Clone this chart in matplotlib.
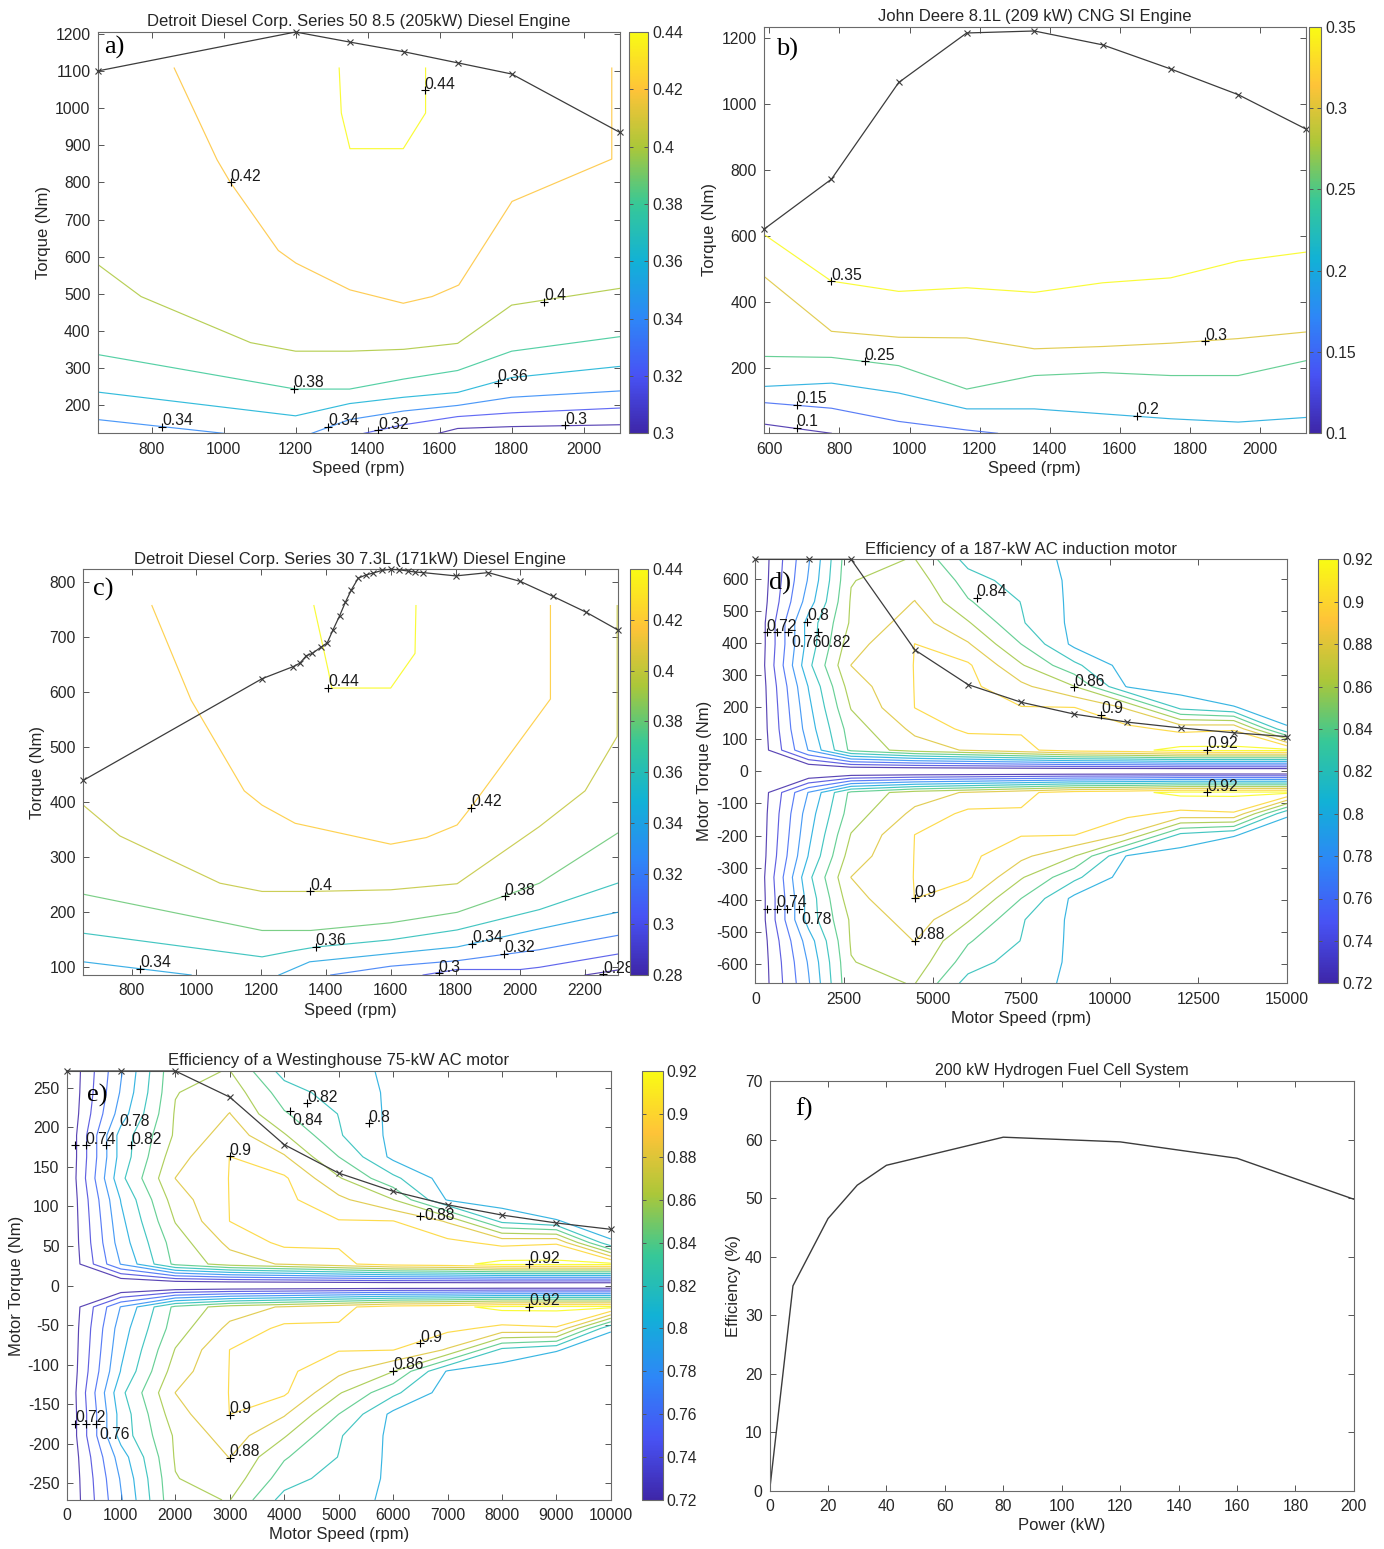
import numpy as np
import matplotlib
matplotlib.use("Agg")
import matplotlib.pyplot as plt
from matplotlib.colors import LinearSegmentedColormap, Normalize
from matplotlib.cm import ScalarMappable
from matplotlib.ticker import FuncFormatter

plt.rcParams['font.family'] = ['Liberation Sans', 'DejaVu Sans']
plt.rcParams['axes.unicode_minus'] = False

# ---------------- data: panel a (Series 50 diesel) ----------------
a_max_spd = [650, 1200, 1350, 1500, 1650, 1800, 2100]
a_max_trq = [1100, 1205, 1178, 1152, 1122, 1092, 935]
a_line_level = [0.44, 0.42, 0.40, 0.38, 0.36, 0.34, 0.34, 0.32, 0.30]
a_line_spd = [
    [1321, 1327, 1351, 1499, 1561, 1561],
    [863, 982, 1019, 1152, 1201, 1351, 1499, 1579, 1653, 1801, 2078, 2078],
    [650, 771, 1075, 1200, 1350, 1500, 1650, 1800, 2100],
    [650, 1200, 1350, 1500, 1650, 1800, 2100],
    [650, 1200, 1350, 1500, 1650, 1800, 2100],
    [650, 1000],
    [1245, 1350, 1500, 1650, 1800, 2100],
    [1390, 1500, 1650, 1800, 2100],
    [1597, 1650, 1800, 2100],
]
a_line_trq = [
    [1108, 987, 891, 891, 987, 1108],
    [1108, 861, 800, 617, 583, 511, 475, 493, 524, 749, 863, 1108],
    [580, 493, 369, 346, 346, 351, 367, 470, 515],
    [337, 244, 244, 271, 294, 346, 385],
    [236, 172, 205, 222, 235, 275, 305],
    [162, 125],
    [125, 162, 185, 200, 222, 239],
    [125, 148, 170, 180, 193],
    [125, 138, 143, 148],
]
a_lab_spd = [1558, 1020, 1890, 1195, 1761, 829, 1290, 1430, 1948]
a_lab_trq = [1048, 800, 479, 244, 261, 142, 143, 133, 146]
a_lab_txt = ['0.44', '0.42', '0.4', '0.38', '0.36', '0.34', '0.34', '0.32', '0.3']

# ---------------- data: panel b (John Deere CNG) ----------------
b_max_spd = [584, 777, 969, 1163, 1356, 1551, 1745, 1938, 2131]
b_max_trq = [621, 773, 1066, 1216, 1222, 1180, 1107, 1029, 925]
b_line_level = [0.35, 0.30, 0.25, 0.20, 0.15, 0.10]
b_line_spd = [
    [584, 777, 969, 1163, 1356, 1551, 1745, 1938, 2131],
    [584, 777, 969, 1163, 1356, 1551, 1745, 1938, 2131],
    [584, 777, 969, 1163, 1356, 1551, 1745, 1938, 2131],
    [584, 777, 969, 1163, 1356, 1551, 1745, 1938, 2131],
    [584, 777, 969, 1163, 1251],
    [584, 777],
]
b_line_trq = [
    [606, 464, 433, 444, 430, 459, 474, 525, 552],
    [479, 312, 294, 292, 259, 266, 276, 290, 310],
    [236, 233, 208, 137, 178, 187, 178, 178, 223],
    [145, 155, 125, 77, 77, 62, 47, 37, 51],
    [96, 79, 39, 13, 3],
    [31, 3],
]
b_lab_spd = [777, 1843, 872, 1650, 678, 678]
b_lab_trq = [464, 282, 221, 56, 89, 20]
b_lab_txt = ['0.35', '0.3', '0.25', '0.2', '0.15', '0.1']

# ---------------- data: panel c (Series 30 diesel) ----------------
c_max_spd = [651, 1203, 1299, 1319, 1340, 1358, 1384, 1404, 1422, 1442, 1460, 1479, 1500,
             1525, 1545, 1573, 1600, 1627, 1652, 1675, 1700, 1801, 1901, 2000, 2100, 2203, 2300]
c_max_trq = [440, 625, 647, 653, 667, 671, 682, 690, 714, 739, 764, 787, 808,
             814, 817, 822, 824, 823, 821, 819, 818, 812, 818, 802, 775, 746, 714]
c_line_level = [0.44, 0.42, 0.40, 0.38, 0.36, 0.34, 0.34, 0.32, 0.30, 0.28]
c_line_spd = [
    [1363, 1408, 1418, 1600, 1675, 1678],
    [863, 984, 1148, 1203, 1305, 1600, 1710, 1805, 1849, 2093, 2093],
    [651, 764, 1073, 1203, 1353, 1600, 1805, 2059, 2200, 2299, 2299],
    [651, 1203, 1353, 1600, 1805, 1952, 2059, 2300],
    [651, 1203, 1300, 1370, 1600, 1805, 2059, 2300],
    [651, 984],
    [1255, 1350, 1600, 1805, 2059, 2300],
    [1415, 1600, 1805, 2059, 2300],
    [1700, 1805, 2000, 2059, 2300],
    [2200, 2300],
]
c_line_trq = [
    [758, 638, 608, 608, 671, 758],
    [758, 586, 421, 395, 362, 324, 336, 359, 392, 588, 758],
    [395, 339, 253, 238, 238, 241, 252, 356, 421, 520, 758],
    [233, 167, 167, 181, 200, 230, 253, 344],
    [162, 119, 130, 137, 150, 168, 205, 253],
    [110, 86],
    [86, 110, 125, 137, 170, 200],
    [86, 102, 112, 132, 158],
    [86, 96, 96, 100, 124],
    [86, 95],
]
c_lab_spd = [1408, 1849, 1351, 1952, 1369, 1851, 827, 1950, 1748, 2256]
c_lab_trq = [608, 390, 238, 229, 137, 143, 97, 124, 89, 87]
c_lab_txt = ['0.44', '0.42', '0.4', '0.38', '0.36', '0.34', '0.34', '0.32', '0.3', '0.28']

# ---------------- data: AC motor efficiency map (panels d and e) ----------------
# rows: torque breakpoints from 0 up to max torque; columns: speed breakpoints
motor_eff = [
    [0.69, 0.69, 0.69, 0.69, 0.69, 0.69, 0.69, 0.69, 0.69, 0.69, 0.69],
    [0.70, 0.781, 0.845, 0.87, 0.882, 0.895, 0.91, 0.915, 0.925, 0.925, 0.925],
    [0.70, 0.79, 0.85, 0.885, 0.905, 0.902, 0.905, 0.905, 0.895, 0.898, 0.802],
    [0.70, 0.795, 0.861, 0.9002, 0.905, 0.901, 0.9005, 0.878, 0.815, 0.801, 0.79],
    [0.70, 0.801, 0.87, 0.9005, 0.905, 0.885, 0.8605, 0.798, 0.79, 0.788, 0.785],
    [0.70, 0.815, 0.8802, 0.9005, 0.903, 0.862, 0.825, 0.79, 0.79, 0.788, 0.785],
    [0.70, 0.808, 0.872, 0.9002, 0.882, 0.84, 0.795, 0.79, 0.79, 0.788, 0.785],
    [0.70, 0.808, 0.863, 0.89, 0.862, 0.822, 0.795, 0.79, 0.79, 0.788, 0.785],
    [0.70, 0.79, 0.862, 0.8805, 0.842, 0.8195, 0.795, 0.793, 0.792, 0.79, 0.788],
    [0.70, 0.782, 0.859, 0.872, 0.83, 0.81, 0.797, 0.795, 0.793, 0.79, 0.788],
    [0.70, 0.778, 0.857, 0.8605, 0.812, 0.806, 0.797, 0.795, 0.793, 0.79, 0.788],
]
motor_levels = [0.72, 0.74, 0.76, 0.78, 0.80, 0.82, 0.84, 0.86, 0.88, 0.90, 0.92]

d_spd = [0, 1500, 2700, 4500, 6000, 7500, 9000, 10500, 12000, 13500, 15000]
d_trq = [0, 66, 132, 198, 264, 330, 396, 462, 528, 594, 660]
d_max_trq = [660, 660, 660, 378, 270, 215, 178, 153, 135, 120, 108]
d_lab_spd = [316, 598, 928, 1465, 1767, 6250, 9000, 9750, 12750, 12750, 4500, 4500, 316, 598, 900, 1230]
d_lab_trq = [433, 433, 433, 466, 433, 540, 262, 175, 66, -66, -396, -528, -428, -428, -428, -428]
d_lab_txt = ['0.72', '', '0.76', '0.8', '0.82', '0.84', '0.86', '0.9', '0.92', '0.92', '0.9', '0.88', '', '0.74', '', '0.78']
d_lab_pos = ['up', '', 'down', 'up', 'down', 'up', 'up', 'up', 'up', 'up', 'up', 'up', '', 'up', '', 'down']

e_spd = [0, 1000, 2000, 3000, 4000, 5000, 6000, 7000, 8000, 9000, 10000]
e_trq = [0, 27.1, 54.2, 81.3, 108.4, 135.5, 162.6, 189.7, 216.8, 243.9, 271]
e_max_trq = [271, 271, 271, 238, 178, 142, 119, 102, 89, 79, 71]
e_lab_spd = [158, 353, 717, 1191, 3000, 4103, 4426, 5550, 6500, 8500, 8500, 6500, 6000, 3000, 3000, 158, 353, 547]
e_lab_trq = [177, 177, 177, 177, 163, 221, 230, 205, 88, 27, -27, -73, -108, -163, -218, -175, -175, -175]
e_lab_txt = ['', '0.74', '0.78', '0.82', '0.9', '0.84', '0.82', '0.8', '0.88', '0.92', '0.92', '0.9', '0.86', '0.9', '0.88', '0.72', '', '0.76']
e_lab_pos = ['', 'up', 'upfar', 'up', 'up', 'down', 'up', 'up', 'right', 'up', 'up', 'up', 'up', 'up', 'up', 'up', '', 'down']

# ---------------- data: panel f (fuel cell) ----------------
f_power = [0, 8, 20, 30, 40, 80, 120, 160, 200]
f_eff = [0, 35, 46.5, 52.2, 55.6, 60.4, 59.6, 56.8, 49.8]

# ---------------- styling ----------------
parula = LinearSegmentedColormap.from_list('parula', [
    (0.2422, 0.1504, 0.6603), (0.2810, 0.3228, 0.9579), (0.1786, 0.5289, 0.9682),
    (0.0689, 0.6948, 0.8394), (0.2161, 0.7843, 0.5923), (0.6720, 0.7793, 0.2227),
    (0.9970, 0.7659, 0.2199), (0.9769, 0.9839, 0.0805)])

W, H = 1384, 1549
fig = plt.figure(figsize=(W / 100, H / 100), dpi=100)


def rect(l, t, r, b):
    return [l / W, 1 - b / H, (r - l) / W, (b - t) / H]


FMT = FuncFormatter(lambda v, _: f'{v:g}')
TICKC = '#555555'
TXTC = '#262626'
LW = 0.85
LALPHA = 0.85


def style(ax, title, xlabel, ylabel, tsize=12):
    for s in ax.spines.values():
        s.set_color('#6a6a6a')
        s.set_linewidth(0.8)
    ax.tick_params(direction='in', length=4, width=0.7, colors=TICKC, labelcolor=TXTC,
                   labelsize=11.3, top=True, right=True)
    ax.tick_params(axis='x', pad=6)
    ax.tick_params(axis='y', pad=5)
    ax.xaxis.set_major_formatter(FMT)
    ax.yaxis.set_major_formatter(FMT)
    ax.set_title(title, fontsize=tsize, color=TXTC, pad=4)
    ax.set_xlabel(xlabel, fontsize=12, color=TXTC, labelpad=3)
    ax.set_ylabel(ylabel, fontsize=12, color=TXTC, labelpad=3)


def panel_letter(ax, s, x, y):
    ax.text(x, y, s, transform=ax.transAxes, ha='left', va='top',
            fontsize=19, family=['Liberation Serif', 'DejaVu Serif'], color='k', zorder=10)


def labels(ax, xs, ys, txts, places=None):
    if places is None:
        places = ['up'] * len(xs)
    for x, y, t, p in zip(xs, ys, txts, places):
        ax.plot([x], [y], marker='+', color='k', ms=6, mew=0.8, ls='none', zorder=6)
        if not t:
            continue
        if p == 'down':
            off, va = (2, -2), 'top'
        elif p == 'right':
            off, va = (3, 0), 'center'
        elif p == 'upfar':
            off, va = (10, 12), 'bottom'
        else:
            off, va = (0, -1), 'bottom'
        ax.annotate(t, (x, y), xytext=off, textcoords='offset points', ha='left', va=va,
                    fontsize=11.3, color='#1a1a1a', zorder=7)


def colorbar(rc, vmin, vmax, ticks):
    cax = fig.add_axes(rect(*rc))
    cb = fig.colorbar(ScalarMappable(Normalize(vmin, vmax), parula), cax=cax)
    cb.set_ticks(ticks)
    cb.set_ticklabels([f'{t:g}' for t in ticks])
    cb.outline.set_edgecolor('#6a6a6a')
    cb.outline.set_linewidth(0.8)
    cax.tick_params(direction='in', length=3, width=0.7, colors=TICKC, labelcolor=TXTC,
                    labelsize=11.3, left=True, right=True, pad=3)


def engine_panel(rc, cbrc, xlim, ylim, xticks, yticks, vmin, vmax, cticks,
                 lvls, lspd, ltrq, mspd, mtrq, lx, ly, lt, title, letter, lpos):
    ax = fig.add_axes(rect(*rc))
    norm = Normalize(vmin, vmax)
    for lv, xs, ys in zip(lvls, lspd, ltrq):
        ax.plot(xs, ys, color=parula(norm(lv)), lw=LW, alpha=LALPHA, zorder=2)
    ax.plot(mspd, mtrq, color='#3c3c3c', lw=0.9, marker='x', ms=4, mew=0.8, zorder=4, clip_on=False)
    labels(ax, lx, ly, lt)
    ax.set_xlim(*xlim)
    ax.set_ylim(*ylim)
    ax.set_xticks(xticks)
    ax.set_yticks(yticks)
    style(ax, title, 'Speed (rpm)', 'Torque (Nm)')
    panel_letter(ax, letter, *lpos)
    colorbar(cbrc, vmin, vmax, cticks)
    return ax


# a)
engine_panel((97.5, 32, 619.7, 433.3), (628.5, 32, 648, 433.3), (650, 2100), (125, 1205),
             range(800, 2001, 200), range(200, 1201, 100), 0.30, 0.44,
             [0.30, 0.32, 0.34, 0.36, 0.38, 0.40, 0.42, 0.44],
             a_line_level, a_line_spd, a_line_trq, a_max_spd, a_max_trq,
             a_lab_spd, a_lab_trq, a_lab_txt,
             'Detroit Diesel Corp. Series 50 8.5 (205kW) Diesel Engine', 'a)', (0.012, 0.99))
# b)
engine_panel((763.8, 26.7, 1305.9, 433.3), (1309, 26.7, 1321, 433.3), (584, 2131), (3, 1235),
             range(600, 2001, 200), range(200, 1201, 200), 0.10, 0.35,
             [0.10, 0.15, 0.20, 0.25, 0.30, 0.35],
             b_line_level, b_line_spd, b_line_trq, b_max_spd, b_max_trq,
             b_lab_spd, b_lab_trq, b_lab_txt,
             'John Deere 8.1L (209 kW) CNG SI Engine', 'b)', (0.022, 0.972))
# c)
engine_panel((82.9, 569.3, 617.5, 975), (630, 569.3, 648, 975), (650, 2300), (86, 824),
             range(800, 2201, 200), range(100, 801, 100), 0.28, 0.44,
             [0.28, 0.30, 0.32, 0.34, 0.36, 0.38, 0.40, 0.42, 0.44],
             c_line_level, c_line_spd, c_line_trq, c_max_spd, c_max_trq,
             c_lab_spd, c_lab_trq, c_lab_txt,
             'Detroit Diesel Corp. Series 30 7.3L (171kW) Diesel Engine', 'c)', (0.019, 0.98))


def motor_panel(rc, cbrc, spd, trq, mtrq, xticks, yticks, lx, ly, lt, lp, title, letter, lpos):
    ax = fig.add_axes(rect(*rc))
    eff = np.array(motor_eff)
    trq = np.array(trq)
    trq_full = np.concatenate([-trq[::-1][:-1], trq])
    eff_full = np.vstack([eff[::-1][:-1], eff])
    X, Y = np.meshgrid(spd, trq_full)
    ax.contour(X, Y, eff_full, levels=motor_levels, cmap=parula, norm=Normalize(0.72, 0.92),
               linewidths=LW, alpha=LALPHA, zorder=2)
    ax.plot(spd, mtrq, color='#3c3c3c', lw=0.9, marker='x', ms=4, mew=0.8, zorder=4, clip_on=False)
    labels(ax, lx, ly, lt, lp)
    ax.set_xlim(spd[0], spd[-1])
    ax.set_ylim(-trq[-1], trq[-1])
    ax.set_xticks(xticks)
    ax.set_yticks(yticks)
    style(ax, title, 'Motor Speed (rpm)', 'Motor Torque (Nm)')
    panel_letter(ax, letter, *lpos)
    colorbar(cbrc, 0.72, 0.92, motor_levels)
    return ax


# d)
motor_panel((755.4, 559.3, 1286.9, 983.3), (1318.3, 559.3, 1337.8, 983.3), d_spd, d_trq, d_max_trq,
            range(0, 15001, 2500), range(-600, 601, 100), d_lab_spd, d_lab_trq, d_lab_txt, d_lab_pos,
            'Efficiency of a 187-kW AC induction motor', 'd)', (0.025, 0.97))
# e)
motor_panel((66.5, 1071, 610.8, 1500), (641.8, 1071, 662.7, 1500), e_spd, e_trq, e_max_trq,
            range(0, 10001, 1000), range(-250, 251, 50), e_lab_spd, e_lab_trq, e_lab_txt, e_lab_pos,
            'Efficiency of a Westinghouse 75-kW AC motor', 'e)', (0.037, 0.97))

# f)
axf = fig.add_axes(rect(769.6, 1081, 1353.8, 1490.7))
axf.plot(f_power, f_eff, color='#3c3c3c', lw=1.0)
axf.set_xlim(0, 200)
axf.set_ylim(0, 70)
axf.set_xticks(range(0, 201, 20))
axf.set_yticks(range(0, 71, 10))
style(axf, '200 kW Hydrogen Fuel Cell System', 'Power (kW)', 'Efficiency (%)', tsize=11.5)
panel_letter(axf, 'f)', 0.043, 0.96)

fig.savefig('out.png', dpi=100)
